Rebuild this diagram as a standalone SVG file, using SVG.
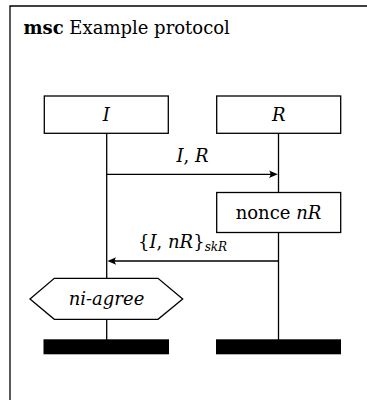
<svg xmlns="http://www.w3.org/2000/svg" width="367" height="400" viewBox="0 0 367 400">
<defs>
<style>
.ln{stroke:#000;stroke-width:1.3;fill:none}
.box{fill:#fff;stroke:#000;stroke-width:1.3}
.bar{fill:#000}
.ah{fill:#000}
</style>
</defs>
<rect width="367" height="400" fill="#fff"/>
<g id="frame">
<path class="ln" d="M10,402 L10,6 L368,6"/>
<text x="23.5" y="34" font-family="DejaVu Serif, serif" font-size="18"><tspan font-weight="bold">msc</tspan> Example protocol</text>
</g>
<g id="connectors">
<line class="ln" x1="106.7" y1="133" x2="106.7" y2="340"/>
<line class="ln" x1="278.5" y1="133" x2="278.5" y2="340"/>
<line class="ln" x1="106.7" y1="174.3" x2="272" y2="174.3"/>
<line class="ln" x1="278.5" y1="261" x2="113" y2="261"/>
<path class="ah" d="M277.8,174.3 L269,170.6 Q272,174.3 269,178 Z"/>
<path class="ah" d="M107.4,261 L116.2,257.3 Q113.2,261 116.2,264.7 Z"/>
<text x="192.5" y="161.7" text-anchor="middle" font-family="DejaVu Serif, serif" font-size="18"><tspan font-style="italic">I</tspan>, <tspan font-style="italic">R</tspan></text>
<text x="138" y="247.5" font-family="DejaVu Serif, serif" font-size="18">{<tspan font-style="italic">I</tspan>, <tspan font-style="italic">nR</tspan>}<tspan font-style="italic" font-size="12" dy="3">skR</tspan></text>
</g>
<g id="node-I">
<rect class="box" x="44.3" y="96" width="124" height="37.3"/>
<text x="106.3" y="121" text-anchor="middle" font-family="DejaVu Serif, serif" font-size="18" font-style="italic">I</text>
</g>
<g id="node-R">
<rect class="box" x="216.7" y="96" width="124" height="37.3"/>
<text x="278.7" y="121" text-anchor="middle" font-family="DejaVu Serif, serif" font-size="18" font-style="italic">R</text>
</g>
<g id="node-nonce">
<rect class="box" x="216.7" y="192.5" width="124" height="40"/>
<text x="278.5" y="219" text-anchor="middle" font-family="DejaVu Serif, serif" font-size="18">nonce <tspan font-style="italic">nR</tspan></text>
</g>
<g id="node-niagree">
<polygon class="box" points="30,299 54.3,278.3 158,278.3 182.7,299 158,319.3 54.3,319.3"/>
<text x="106.5" y="304.5" text-anchor="middle" font-family="DejaVu Serif, serif" font-size="18" font-style="italic">ni-agree</text>
</g>
<g id="end-I">
<rect class="bar" x="43.5" y="339.3" width="125.5" height="15"/>
</g>
<g id="end-R">
<rect class="bar" x="216" y="339.3" width="125" height="15"/>
</g>
</svg>
